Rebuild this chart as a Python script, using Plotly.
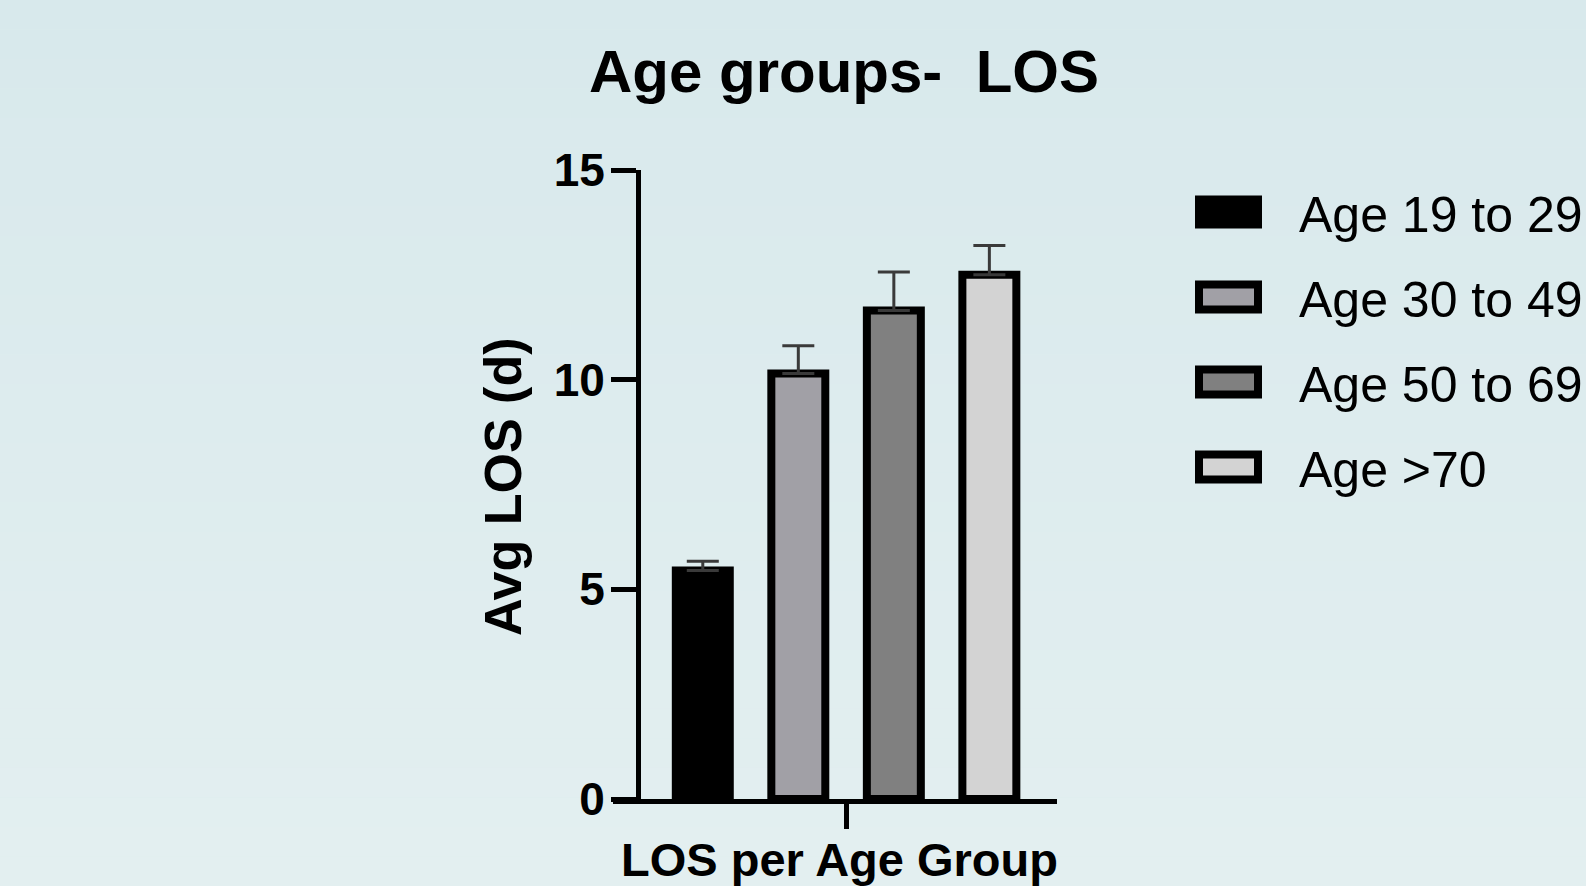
import plotly.graph_objects as go

# ---- data ----
category = ["LOS per Age Group"]
series_names = ["Age 19 to 29", "Age 30 to 49", "Age 50 to 69", "Age >70"]
avg_los = [5.45, 10.15, 11.65, 12.50]
err_up = [0.22, 0.66, 0.92, 0.70]
bar_colors = ["#000000", "#a1a0a6", "#808080", "#d3d3d3"]
y_ticks = [0, 5, 10, 15]

W, H = 1586, 886
FONT = "Liberation Sans, Arial, Helvetica, sans-serif"

def px_x(p):
    return p / W

def px_y(p):
    return 1 - p / H

fig = go.Figure()
for name, v, e, c in zip(series_names, avg_los, err_up, bar_colors):
    fig.add_trace(go.Bar(
        x=category, y=[v], name=name,
        marker=dict(color=c, line=dict(color="#000000", width=8)),
        error_y=dict(type="data", array=[e], symmetric=False, arrayminus=[0],
                     color="#3a3a3a", thickness=3, width=16),
        showlegend=False,
    ))

# background gradient bands
shapes = []
top_c = (216, 233, 236)
bot_c = (227, 239, 240)
nb = 30
for i in range(nb):
    t = i / (nb - 1)
    col = tuple(round(top_c[k] + (bot_c[k] - top_c[k]) * t) for k in range(3))
    shapes.append(dict(type="rect", xref="paper", yref="paper", layer="below",
                       x0=0, x1=1, y0=1 - (i + 1) / nb, y1=1 - i / nb,
                       fillcolor="rgb(%d,%d,%d)" % col, line=dict(width=0)))

# manual legend
annotations = []
leg_y0, leg_step = 212, 85
for i, (name, c) in enumerate(zip(series_names, bar_colors)):
    cy = leg_y0 + i * leg_step
    shapes.append(dict(type="rect", xref="paper", yref="paper",
                       x0=px_x(1199), x1=px_x(1258),
                       y0=px_y(cy + 12.5), y1=px_y(cy - 12.5),
                       fillcolor=c, line=dict(color="#000000", width=8)))
    annotations.append(dict(text=name, xref="paper", yref="paper",
                            x=px_x(1297), y=px_y(cy + 3), xanchor="left", yanchor="middle",
                            showarrow=False, font=dict(family=FONT, size=50, color="#000000")))

# titles
annotations.append(dict(text="<b>Age groups-\u00a0 LOS</b>", xref="paper", yref="paper",
                        x=px_x(844), y=px_y(71), xanchor="center", yanchor="middle",
                        showarrow=False, font=dict(family=FONT, size=60, color="#000000")))
annotations.append(dict(text="<b>Avg LOS (d)</b>", xref="paper", yref="paper",
                        x=px_x(503), y=px_y(487), xanchor="center", yanchor="middle",
                        textangle=-90, showarrow=False,
                        font=dict(family=FONT, size=52, color="#000000")))
annotations.append(dict(text="<b>LOS per Age Group</b>", xref="paper", yref="paper",
                        x=px_x(840), y=px_y(859), xanchor="center", yanchor="middle",
                        showarrow=False, font=dict(family=FONT, size=47, color="#000000")))

fig.update_layout(
    width=W, height=H, autosize=False,
    margin=dict(l=0, r=0, t=0, b=0, pad=0, autoexpand=False),
    paper_bgcolor="rgb(221,236,238)",
    plot_bgcolor="rgba(0,0,0,0)",
    barmode="group", bargap=0, bargroupgap=0.435,
    shapes=shapes, annotations=annotations,
    xaxis=dict(
        type="category", domain=[px_x(613), px_x(1057)],
        range=[-0.610, 0.552], automargin=False,
        showline=True, linecolor="#000000", linewidth=5,
        ticks="outside", ticklen=25, tickwidth=5, tickcolor="#000000",
        showticklabels=False, showgrid=False, zeroline=False,
        anchor="y",
    ),
    yaxis=dict(
        domain=[px_y(799), px_y(170)], range=[0, 15],
        anchor="free", position=px_x(638), automargin=False,
        tickvals=y_ticks, ticktext=["<b>%d</b>" % t for t in y_ticks],
        showline=True, linecolor="#000000", linewidth=5,
        ticks="outside", ticklen=25, tickwidth=5, tickcolor="#000000",
        tickfont=dict(family=FONT, size=46, color="#000000"),
        ticklabelstandoff=-3,
        showgrid=False, zeroline=False,
    ),
)

fig.write_html("out.html", config={"displayModeBar": False},
               post_script="document.body.style.margin='0';document.body.style.overflow='hidden';")
